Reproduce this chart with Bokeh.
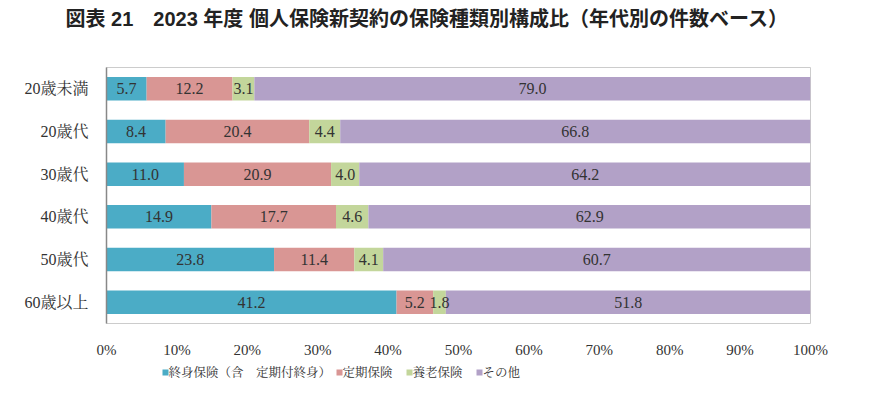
from bokeh.plotting import figure
from bokeh.layouts import column
from bokeh.models import ColumnDataSource, FactorRange, NumeralTickFormatter, FixedTicker
from bokeh.core.properties import value
from bokeh.embed import file_html
from bokeh.resources import INLINE

title = "図表 21　2023 年度 個人保険新契約の保険種類別構成比（年代別の件数ベース）"
categories = ["20歳未満", "20歳代", "30歳代", "40歳代", "50歳代", "60歳以上"]
series_names = ["終身保険（含　定期付終身）", "定期保険", "養老保険", "その他"]
whole_life = [5.7, 8.4, 11.0, 14.9, 23.8, 41.2]
term = [12.2, 20.4, 20.9, 17.7, 11.4, 5.2]
endowment = [3.1, 4.4, 4.0, 4.6, 4.1, 1.8]
other = [79.0, 66.8, 64.2, 62.9, 60.7, 51.8]
x_ticks = [0, 10, 20, 30, 40, 50, 60, 70, 80, 90, 100]

colors = ["#4BACC6", "#D99694", "#C3D69B", "#B2A1C7"]
keys = ["a", "b", "c", "d"]
series = [whole_life, term, endowment, other]

serif = "Liberation Serif, Noto Serif CJK JP, Noto Sans CJK JP"
W = 854
FL, FR = 106, 44  # frame borders left / right

# ---- title strip (title drawn as the strip's own title) ----
tf = figure(width=W, height=40, output_backend="svg", toolbar_location=None,
            min_border_left=FL, min_border_right=FR, min_border_top=7, min_border_bottom=0)
tf.axis.visible = False
tf.grid.visible = False
tf.outline_line_color = None
tf.title.text = title
tf.title.text_font = "Liberation Sans, Noto Sans CJK JP"
tf.title.text_font_size = "20px"
tf.title.text_font_style = "bold"
tf.title.align = "left"
tf.title.offset = -41
tf.title.text_color = "#222222"

# ---- main chart ----
data = {"cat": categories}
for k, s in zip(keys, series):
    data[k] = [v / 100.0 for v in s]
src = ColumnDataSource(data)

p = figure(width=W, height=320, output_backend="svg", toolbar_location=None,
           y_range=FactorRange(factors=list(reversed(categories))),
           x_range=(0, 1), min_border_left=FL, min_border_right=FR,
           min_border_top=27, min_border_bottom=32)

p.hbar_stack(keys, y="cat", height=0.55, color=colors, source=src, line_color=None)

lx, ly, lt = [], [], []
for i, c in enumerate(categories):
    cum = 0.0
    for s in series:
        v = s[i]
        lx.append((cum + v / 2) / 100.0)
        ly.append(c)
        lt.append(f"{v:.1f}")
        cum += v
p.text(x=lx, y=ly, text=lt, text_align="center", text_baseline="middle",
       text_font=value(serif), text_font_size="16px", text_color="#333333")

p.xaxis.ticker = FixedTicker(ticks=[t / 100 for t in x_ticks])
p.xaxis.formatter = NumeralTickFormatter(format="0%")
p.xaxis.axis_line_color = None
p.xaxis.major_tick_line_color = None
p.xaxis.minor_tick_line_color = None
p.xaxis.major_label_text_font = serif
p.xaxis.major_label_text_font_size = "15px"
p.xaxis.major_label_text_color = "#333333"
p.xaxis.major_label_standoff = 12

p.yaxis.axis_line_color = "#888888"
p.yaxis.axis_line_width = 1.5
p.yaxis.major_tick_line_color = None
p.yaxis.minor_tick_line_color = None
p.yaxis.major_label_text_font = serif
p.yaxis.major_label_text_font_size = "16px"
p.yaxis.major_label_text_color = "#333333"
p.yaxis.major_label_standoff = 12

p.xgrid.grid_line_color = None
p.ygrid.grid_line_color = None
p.outline_line_color = "#CCCCCC"

# ---- legend strip (x in page pixels across the frame) ----
lg = figure(width=W, height=25, output_backend="svg", toolbar_location=None,
            x_range=(FL, W - FR), y_range=(0, 25),
            min_border_left=FL, min_border_right=FR, min_border_top=0, min_border_bottom=0)
lg.axis.visible = False
lg.grid.visible = False
lg.outline_line_color = None
leg_x = [162, 336, 406, 476]
lg.rect(x=[x + 3 for x in leg_x], y=[13] * 4, width=6, height=6, fill_color=colors, line_color=None)
lg.text(x=[x + 6 for x in leg_x], y=[13] * 4, text=series_names, text_align="left",
        text_baseline="middle", text_font=value(serif), text_font_size="12.5px",
        text_color="#333333")

layout = column(tf, p, lg, spacing=0)
open("out.html", "w").write(file_html(layout, INLINE))
